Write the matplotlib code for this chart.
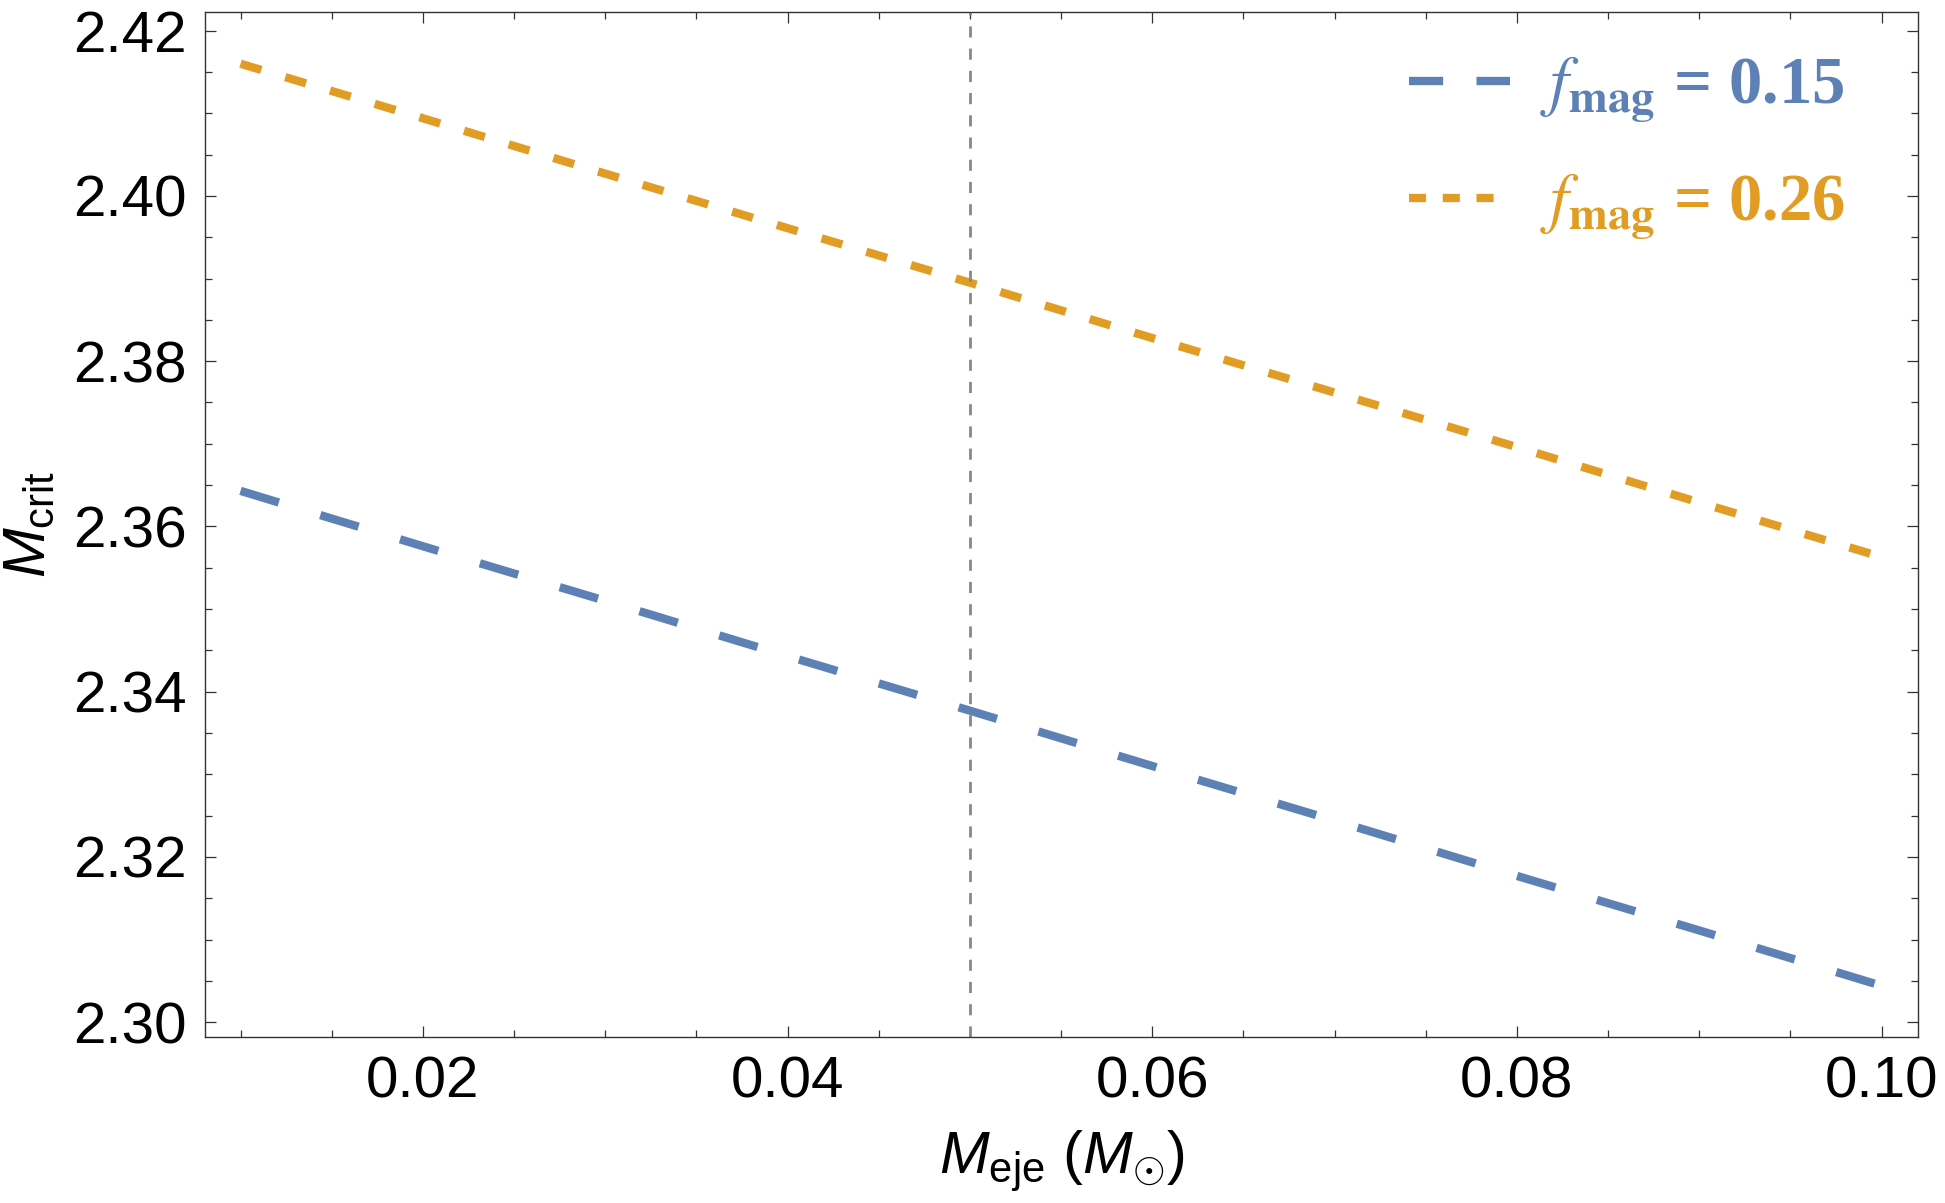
import matplotlib
matplotlib.use("Agg")
import matplotlib.pyplot as plt
from matplotlib.ticker import MultipleLocator, FormatStrFormatter
from matplotlib.font_manager import FontProperties
from matplotlib.lines import Line2D

# ---- data ----
m_eje = [0.01, 0.02, 0.03, 0.04, 0.05, 0.06, 0.07, 0.08, 0.09, 0.10]
mcrit_f015 = [2.3643, 2.3576, 2.3510, 2.3443, 2.3377, 2.3310, 2.3244, 2.3177, 2.3111, 2.3044]
mcrit_f026 = [2.4160, 2.4094, 2.4027, 2.3961, 2.3895, 2.3828, 2.3762, 2.3696, 2.3629, 2.3563]
labels = [r'$f_{\mathbf{mag}}$ = 0.15', r'$f_{\mathbf{mag}}$ = 0.26']
vline_x = 0.05

blue = '#5E81B5'
orange = '#E19C24'
frame = '#333333'

plt.rcParams['font.family'] = ['Liberation Sans', 'DejaVu Sans']
plt.rcParams['mathtext.fontset'] = 'custom'
plt.rcParams['mathtext.rm'] = 'Liberation Sans'
plt.rcParams['mathtext.it'] = 'Liberation Sans:italic'
plt.rcParams['mathtext.bf'] = 'Liberation Sans:bold'

W, H, DPI = 1945, 1203, 100
fig = plt.figure(figsize=(W / DPI, H / DPI), dpi=DPI)
L, R, T, B = 205, 1918, 11.7, 1037
ax = fig.add_axes([L / W, (H - B) / H, (R - L) / W, (B - T) / H])

lw = 6.0
ax.plot(m_eje, mcrit_f015, color=blue, lw=lw, dashes=(4.8, 5.2),
        dash_capstyle='butt', solid_capstyle='butt')
ax.plot(m_eje, mcrit_f026, color=orange, lw=lw, dashes=(2.6, 3.0),
        dash_capstyle='butt')
ax.axvline(vline_x, color='#888888', lw=2.0, dashes=(4, 4))

ax.set_xlim(0.00805, 0.102)
ax.set_ylim(2.2982, 2.4223)

ax.xaxis.set_major_locator(MultipleLocator(0.02))
ax.xaxis.set_minor_locator(MultipleLocator(0.005))
ax.yaxis.set_major_locator(MultipleLocator(0.02))
ax.yaxis.set_minor_locator(MultipleLocator(0.005))
ax.xaxis.set_major_formatter(FormatStrFormatter('%.2f'))
ax.yaxis.set_major_formatter(FormatStrFormatter('%.2f'))

ax.tick_params(which='both', direction='in', top=True, right=True,
               color=frame, width=0.9, labelsize=42, labelcolor='black')
ax.tick_params(which='major', length=8)
ax.tick_params(which='minor', length=4.8)
ax.tick_params(axis='x', which='major', pad=13)
ax.tick_params(axis='y', which='major', pad=13)
for s in ax.spines.values():
    s.set_color(frame)
    s.set_linewidth(1.0)

ax.set_xlabel(r'$M_{\mathrm{eje}}$ ($M_{\odot}$)', fontsize=43, labelpad=14)
ax.set_ylabel(r'$M_{\mathrm{crit}}$', fontsize=43, labelpad=12)

handles = [
    Line2D([], [], color=blue, lw=lw, dashes=(4.1, 4.0)),
    Line2D([], [], color=orange, lw=lw, dashes=(2.05, 2.0)),
]
prop = FontProperties(family='Liberation Serif', weight='bold', size=48,
                      math_fontfamily='stix')
leg = ax.legend(handles, labels, loc='upper left',
                bbox_to_anchor=((1409 - L) / (R - L), 1 - (55 - T) / (B - T)),
                bbox_transform=ax.transAxes, frameon=False, prop=prop,
                handlelength=1.52, handletextpad=0.45, labelspacing=0.7,
                borderpad=0, borderaxespad=0, labelcolor='linecolor')

fig.savefig('out.png', dpi=DPI)
